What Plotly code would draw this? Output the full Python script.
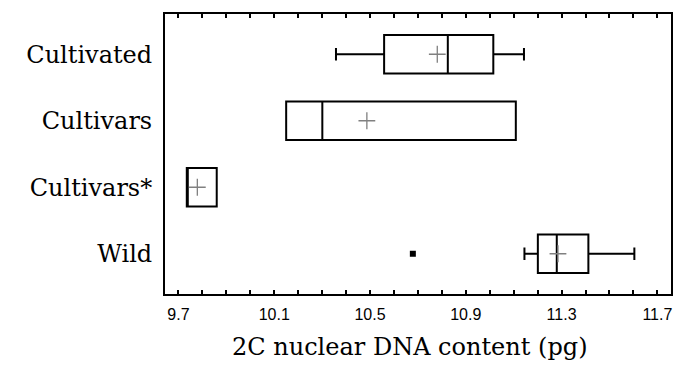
import plotly.graph_objects as go

categories = ["Cultivated", "Cultivars", "Cultivars*", "Wild"]
q1 = [10.559, 10.150, 9.735, 11.201]
median = [10.825, 10.301, 9.735, 11.280]
q3 = [11.015, 11.109, 9.860, 11.412]
lowerfence = [10.358, 10.150, 9.735, 11.145]
upperfence = [11.143, 11.109, 9.860, 11.604]
means = [10.781, 10.487, 9.779, 11.285]
outlier_cat = ["Wild"]
outlier_val = [10.679]
x_ticks = [9.7, 10.1, 10.5, 10.9, 11.3, 11.7]
x_title = "2C nuclear DNA content (pg)"

fig = go.Figure()
fig.add_trace(go.Box(
    y=categories, q1=q1, median=median, q3=q3,
    lowerfence=lowerfence, upperfence=upperfence,
    orientation="h", boxpoints=False,
    line=dict(color="black", width=2), fillcolor="white",
    whiskerwidth=0.32, showlegend=False, hoverinfo="skip",
))
fig.add_trace(go.Scatter(
    x=means, y=categories, mode="markers",
    marker=dict(symbol="cross-thin", size=12, line=dict(color="#808080", width=1.3)),
    showlegend=False,
))
fig.add_trace(go.Scatter(
    x=outlier_val, y=outlier_cat, mode="markers",
    marker=dict(symbol="square", size=6, color="black"),
    showlegend=False,
))

fig.update_layout(
    width=680, height=359,
    margin=dict(l=157, r=17, t=4, b=73),
    plot_bgcolor="white", paper_bgcolor="white",
    boxgap=0.17,
    annotations=[dict(
        text=x_title, xref="paper", yref="paper", x=0.484, y=0,
        xanchor="center", yanchor="middle", yshift=-53, showarrow=False,
        font=dict(family="DejaVu Serif", size=24, color="black"),
    )],
)
fig.update_xaxes(
    range=[9.644, 11.757],
    tickvals=x_ticks, ticktext=[f"{v:.1f}" for v in x_ticks],
    ticks="inside", ticklen=4, tickwidth=1.5, tickcolor="black",
    minor=dict(dtick=0.1, tick0=9.7, ticks="inside", ticklen=4, tickwidth=1.5, tickcolor="black"),
    showline=True, linecolor="black", linewidth=2, mirror="ticks",
    showgrid=False, zeroline=False, ticklabelstandoff=5,
    tickfont=dict(family="Liberation Sans", size=16, color="black"),
)
fig.update_yaxes(
    categoryorder="array", categoryarray=categories,
    range=[3.605, -0.605],
    ticks="", showline=True, linecolor="black", linewidth=2, mirror=True,
    showgrid=False, zeroline=False, ticklabelstandoff=6,
    tickfont=dict(family="DejaVu Serif", size=24, color="black"),
)

fig.write_html("out.html")
